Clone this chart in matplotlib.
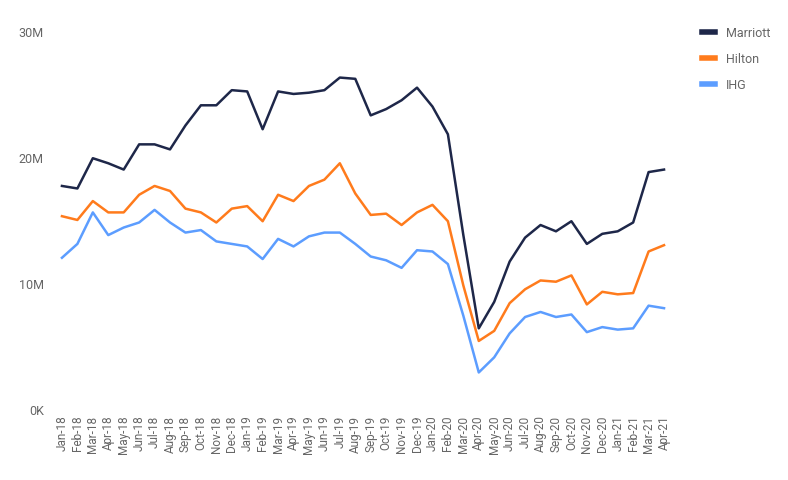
import matplotlib
matplotlib.use("Agg")
import matplotlib.pyplot as plt
from matplotlib.ticker import FuncFormatter

plt.rcParams['font.family'] = ['Roboto', 'DejaVu Sans']

months = ['Jan-18', 'Feb-18', 'Mar-18', 'Apr-18', 'May-18', 'Jun-18', 'Jul-18', 'Aug-18',
          'Sep-18', 'Oct-18', 'Nov-18', 'Dec-18', 'Jan-19', 'Feb-19', 'Mar-19', 'Apr-19',
          'May-19', 'Jun-19', 'Jul-19', 'Aug-19', 'Sep-19', 'Oct-19', 'Nov-19', 'Dec-19',
          'Jan-20', 'Feb-20', 'Mar-20', 'Apr-20', 'May-20', 'Jun-20', 'Jul-20', 'Aug-20',
          'Sep-20', 'Oct-20', 'Nov-20', 'Dec-20', 'Jan-21', 'Feb-21', 'Mar-21', 'Apr-21']

# values in millions
marriott = [17.7, 17.5, 19.9, 19.5, 19.0, 21.0, 21.0, 20.6, 22.5, 24.1, 24.1, 25.3,
            25.2, 22.2, 25.2, 25.0, 25.1, 25.3, 26.3, 26.2, 23.3, 23.8, 24.5, 25.5,
            24.0, 21.8, 13.8, 6.4, 8.5, 11.7, 13.6, 14.6, 14.1, 14.9, 13.1, 13.9,
            14.1, 14.8, 18.8, 19.0]
hilton = [15.3, 15.0, 16.5, 15.6, 15.6, 17.0, 17.7, 17.3, 15.9, 15.6, 14.8, 15.9,
          16.1, 14.9, 17.0, 16.5, 17.7, 18.2, 19.5, 17.1, 15.4, 15.5, 14.6, 15.6,
          16.2, 14.9, 9.8, 5.4, 6.2, 8.4, 9.5, 10.2, 10.1, 10.6, 8.3, 9.3,
          9.1, 9.2, 12.5, 13.0]
ihg = [12.0, 13.1, 15.6, 13.8, 14.4, 14.8, 15.8, 14.8, 14.0, 14.2, 13.3, 13.1,
       12.9, 11.9, 13.5, 12.9, 13.7, 14.0, 14.0, 13.1, 12.1, 11.8, 11.2, 12.6,
       12.5, 11.5, 7.4, 2.9, 4.1, 6.0, 7.3, 7.7, 7.3, 7.5, 6.1, 6.5,
       6.3, 6.4, 8.2, 8.0]

series = [('Marriott', marriott, '#1e2749'),
          ('Hilton', hilton, '#ff7b1c'),
          ('IHG', ihg, '#5c9dff')]

fig = plt.figure(figsize=(7.88, 4.81), dpi=100)
ax = fig.add_axes([0.0698, 0.1476, 0.7817, 0.786])

x = list(range(len(months)))
for name, vals, color in series:
    ax.plot(x, [v * 1e6 for v in vals], color=color, lw=1.8, label=name)

ax.set_xlim(-0.45, len(months) - 0.55)
ax.set_ylim(0, 30e6)
ax.set_yticks([0, 10e6, 20e6, 30e6])
ax.yaxis.set_major_formatter(FuncFormatter(lambda v, p: '0K' if v == 0 else '%dM' % (v / 1e6)))
ax.set_xticks(x)
ax.set_xticklabels(months, rotation=90)
ax.tick_params(length=0, colors='#666666', labelsize=8.5)
ax.tick_params(axis='y', pad=8, labelsize=9)
ax.tick_params(axis='x', pad=4)
for s in ax.spines.values():
    s.set_visible(False)

fig.legend(loc='upper left', bbox_to_anchor=(0.877, 0.967), frameon=False,
           handlelength=1.0, handletextpad=0.9, labelspacing=1.05,
           prop={'size': 9}, labelcolor='#666666')
for line in fig.legends[0].get_lines():
    line.set_linewidth(4)

fig.savefig('out.png', dpi=100)
